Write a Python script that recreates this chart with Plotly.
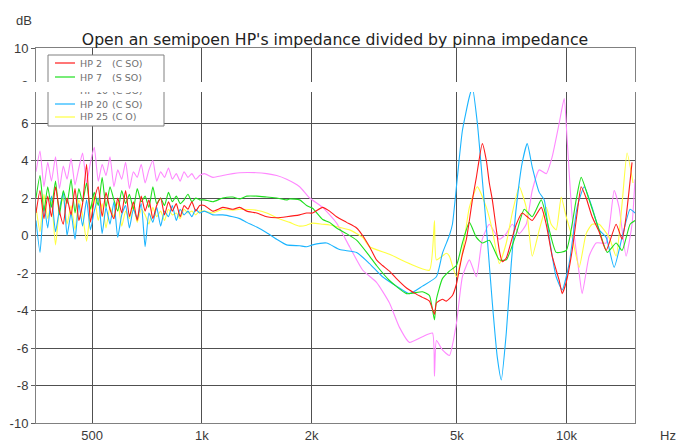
import math
import plotly.graph_objects as go

# ---------------- data ----------------
LOW_HZ = [351, 360, 369, 378, 387, 397, 407, 417, 427, 438, 449, 460, 471, 483, 495,
          507, 520, 533, 546, 560, 574, 588, 603, 618, 633, 649, 665, 682, 699, 716,
          734, 752, 771, 790, 810, 830, 851, 872, 894, 916, 939, 962, 986]

hp2_lo = [1.2, 2.4, 0.9, 2.1, 1.0, 2.6, 1.3, 0.6, 2.0, 1.1, 2.5, 0.8, 1.7, 3.8, 0.7,
          1.9, 2.6, 1.0, 2.3, 1.4, 0.9, 2.0, 1.2, 2.4, 1.0, 1.8, 0.8, 2.1, 1.3, 1.9,
          0.9, 1.6, 2.0, 1.1, 1.8, 1.3, 1.7, 1.0, 1.6, 1.4, 1.8, 1.3, 1.6]
hp7_lo = [2.0, 3.2, 1.3, 2.6, 1.5, 2.9, 1.1, 2.4, 1.7, 3.0, 1.2, 2.5, 1.8, 2.8, 1.4,
          2.3, 1.6, 3.1, 1.5, 2.6, 1.9, 1.3, 2.4, 1.7, 2.2, 1.4, 2.5, 1.8, 2.1, 1.5,
          2.6, 1.7, 2.0, 1.6, 2.3, 1.8, 2.1, 1.7, 1.9, 2.2, 1.8, 2.0, 1.9]
hp10_lo = [3.4, 4.5, 2.6, 3.9, 2.9, 4.2, 2.5, 3.7, 3.0, 4.1, 2.7, 3.6, 4.4, 2.8, 3.9,
           4.7, 2.9, 3.8, 3.2, 4.2, 2.6, 3.5, 3.0, 3.9, 2.5, 3.4, 3.1, 3.8, 2.8, 3.5,
           4.0, 2.9, 3.4, 3.1, 3.6, 3.0, 3.3, 2.9, 3.4, 3.1, 3.3, 3.0, 3.2]
hp20_lo = [0.8, -0.9, 1.6, 0.4, 2.1, 0.2, 1.4, 2.3, 0.0, 1.2, -0.2, 1.7, 0.5, 1.9, 0.3,
           1.3, 2.0, 0.1, 1.5, 0.6, 1.8, -0.1, 1.1, 1.6, 0.4, 1.4, 0.9, 1.7, -0.6, 1.2,
           0.7, 1.5, 0.5, 1.3, 1.0, 1.6, 0.8, 1.4, 1.1, 1.3, 1.0, 1.4, 1.2]
hp25_lo = [1.5, 0.2, 2.2, 0.9, 1.8, -0.5, 1.4, 2.0, 0.6, 1.6, 0.3, 1.9, 1.1, -0.3, 1.3,
           2.1, 0.8, 1.7, 0.4, 1.5, 1.0, 1.8, 0.5, 1.3, 0.9, 1.6, 0.7, 1.4, 1.1, 0.6,
           1.5, 1.0, 1.3, 0.8, 1.4, 1.1, 1.2, 0.9, 1.4, 1.2, 1.3, 1.1, 1.3]

hp2_hz_hi = [1016, 1072, 1141, 1216, 1270, 1328, 1414, 1506, 1604, 1708, 1854, 1938, 2012,
             2144, 2240, 2341, 2493, 2656, 2759, 2882, 3012, 3128, 3269, 3417, 3640, 3850,
             4025, 4207, 4342, 4396, 4566, 4682, 4864, 4987, 5082, 5180, 5312, 5413, 5517,
             5657, 5873, 6025, 6139, 6257, 6540, 6664, 6833, 7052, 7279, 7559, 7800, 8050,
             8521, 8792, 9130, 9545, 9726, 9974, 10358, 10688, 10963, 11314, 11748, 12279,
             12835, 13670, 14193, 14558, 15115]
hp2_db_hi = [1.6, 1.3, 1.5, 1.4, 1.5, 1.3, 1.2, 1.0, 0.95, 1.0, 1.1, 1.2, 1.2,
             1.5, 1.3, 1.0, 0.7, 0.4, 0.0, -0.6, -1.3, -1.6, -1.9, -2.3, -2.8, -3.1,
             -3.3, -3.5, -4.2, -3.6, -3.4, -3.5, -3.2, -2.6, -1.8, -1.0, -0.2, 0.8, 1.9,
             3.1, 4.9, 4.0, 2.8, 1.9, -0.8, -1.4, -1.2, -0.3, 0.6, 1.2, 1.0, 0.8,
             1.5, 0.6, -1.1, -2.4, -3.1, -2.5, -0.8, 1.2, 2.6, 2.0, 1.0, 0.2,
             -0.8, 0.6, -0.2, 1.0, 3.9]

hp7_hz_hi = [1016, 1072, 1141, 1216, 1270, 1328, 1414, 1506, 1604, 1708, 1741, 1854, 1938,
             2012, 2144, 2240, 2341, 2493, 2656, 2882, 3012, 3269, 3640, 4025, 4207, 4342,
             4396, 4566, 4771, 4987, 5180, 5413, 5657, 5873, 6139, 6540, 6833, 7279, 7654,
             8050, 8521, 8960, 9363, 9974, 10621, 10963, 11529, 12279, 12925, 13670, 14193,
             14929, 15400]
hp7_db_hi = [1.9, 1.8, 2.0, 2.05, 1.95, 2.1, 2.1, 2.05, 2.0, 1.9, 1.95, 1.9, 1.6,
             1.45, 0.85, 0.7, 0.4, 0.1, -0.25, -1.1, -1.6, -2.4, -3.1, -3.0, -3.2, -4.5,
             -3.4, -2.3, -1.9, -1.6, -0.4, 0.7, -0.1, -0.4, -0.25, -1.3, -1.3, 0.1, 1.4,
             1.0, 1.9, 0.3, -0.9, -0.8, 1.9, 3.1, 1.9, 0.3, -0.9, -0.4, -0.8,
             0.6, 0.8]

hp10_hz_hi = [1016, 1072, 1141, 1216, 1270, 1414, 1506, 1604, 1708, 1854, 1975, 2144, 2341,
              2541, 2759, 3012, 3269, 3482, 3708, 4025, 4287, 4342, 4396, 4566, 4771, 4987,
              5180, 5413, 5657, 5873, 6139, 6540, 6833, 7097, 7417, 7750, 8050, 8415, 8792,
              9130, 9545, 9849, 10036, 10358, 10824, 11033, 11529, 12048, 12835, 13500,
              13929, 14558, 15115, 15400]
hp10_db_hi = [3.3, 3.1, 3.2, 3.3, 3.35, 3.35, 3.3, 3.2, 3.0, 2.6, 2.0, 1.5, 0.66,
              -0.6, -1.84, -2.5, -3.6, -4.9, -5.7, -5.4, -5.2, -7.5, -5.6, -6.1, -6.4, -4.7,
              -2.2, -1.3, -2.2, -0.2, 0.6, -0.2, 0.1, 0.6, 0.1, 0.6, 2.4, 3.5, 3.3,
              4.2, 6.0, 7.3, 5.1, 1.0, -2.0, -3.1, -1.1, -0.4, -0.4, 2.4,
              1.5, -1.1, 0.6, 3.0]

hp20_hz_hi = [1016, 1072, 1141, 1216, 1270, 1328, 1414, 1506, 1604, 1708, 1854, 1938, 2012,
              2198, 2387, 2656, 2882, 3128, 3417, 3708, 4025, 4396, 4566, 4771, 4864, 5018,
              5180, 5413, 5517, 5692, 5873, 6063, 6257, 6457, 6622, 6833, 7052, 7279, 7559,
              7800, 8050, 8415, 8683, 8960, 9363, 9726, 10163, 10688, 11173, 11748, 12279,
              12835, 13500, 14193, 14929, 15400]
hp20_db_hi = [1.3, 1.1, 1.1, 1.0, 0.9, 0.7, 0.45, 0.15, -0.2, -0.5, -0.55, -0.6, -0.5,
              -0.4, -0.75, -0.9, -1.5, -2.2, -2.7, -3.1, -2.7, -2.2, -0.95, 0.0, 0.6, 3.1,
              5.6, 7.4, 7.9, 6.0, 3.0, -0.2, -3.6, -6.5, -7.7, -5.2, -1.5, 1.5, 3.9,
              4.9, 3.65, 2.3, 1.9, -0.1, -2.2, -2.9, -1.5, 1.5, 2.6, 1.5, 0.3,
              -0.1, -1.7, -0.1, 1.4, 1.2]

hp25_hz_hi = [1016, 1072, 1141, 1216, 1270, 1414, 1506, 1604, 1741, 1854, 1938, 2012, 2144,
              2240, 2541, 2759, 2882, 3269, 3708, 4207, 4342, 4396, 4682, 4771, 4987, 5180,
              5413, 5692, 6025, 6257, 6540, 6833, 7097, 7417, 7750, 8050, 8415, 8792, 9073,
              9363, 9665, 9974, 10358, 10824, 11314, 11748, 12279, 13079, 13670, 14193,
              14650, 15209]
hp25_db_hi = [1.3, 1.2, 1.4, 1.35, 1.4, 1.35, 1.2, 0.95, 0.7, 0.5, 0.55, 0.66, 0.6,
              0.56, 0.3, -0.1, -0.6, -1.0, -1.5, -1.85, 0.8, -1.3, -0.95, -1.1, -2.2, -0.9,
              1.5, 2.6, 1.5, 0.3, -1.5, -0.4, 1.2, 2.6, 1.5, -1.1, 0.3, 1.5, 0.6,
              0.3, 2.05, 1.0, -0.1, -1.7, 0.1, 0.6, 0.6, -0.1, -1.1, 1.7,
              4.4, 2.8]

SERIES_NAMES = ["HP 2", "HP 7", "HP 10", "HP 20", "HP 25"]
SERIES_CODES = ["(C SO)", "(S SO)", "(C SO)", "(C SO)", "(C O)"]
SERIES_COLORS = ["#ff1a1a", "#1ee01e", "#ff88ff", "#1ab4ff", "#ffff40"]

Y_TICKS = [-10, -8, -6, -4, -2, 0, 2, 4, 6, 8, 10]
X_TICKS = [500, 1000, 2000, 5000, 10000]
X_TICK_TEXT = ["500", "1k", "2k", "5k", "10k"]
X_RANGE_HZ = [351, 15400]

series = {
    "HP 2": (LOW_HZ + hp2_hz_hi, hp2_lo + hp2_db_hi),
    "HP 7": (LOW_HZ + hp7_hz_hi, hp7_lo + hp7_db_hi),
    "HP 10": (LOW_HZ + hp10_hz_hi, hp10_lo + hp10_db_hi),
    "HP 20": (LOW_HZ + hp20_hz_hi, hp20_lo + hp20_db_hi),
    "HP 25": (LOW_HZ + hp25_hz_hi, hp25_lo + hp25_db_hi),
}

# ---------------- figure ----------------
fig = go.Figure()
draw_order = [2, 4, 3, 1, 0]
for i in draw_order:
    name = SERIES_NAMES[i]
    xs, ys = series[name]
    fig.add_trace(go.Scatter(x=xs, y=ys, mode="lines", name=name + " " + SERIES_CODES[i],
                             line=dict(color=SERIES_COLORS[i], width=1.1,
                                       shape="spline", smoothing=0.5),
                             showlegend=False, hoverinfo="skip"))

# the page body has an 8px margin; work in window pixels and shift
OFF = 8
W, H = 688 - OFF, 444 - OFF
ML, MR, MT, MB = 36 - OFF, 53, 48 - OFF, 21
PW, PH = W - ML - MR, H - MT - MB

def px_x(p):
    return (p - OFF - ML) / PW

def px_y(p):
    return 1 - (p - OFF - MT) / PH

font_axis = dict(family="Liberation Sans, Arial, sans-serif", size=13, color="#3a3a3a")
font_leg = dict(family="DejaVu Sans, Verdana, sans-serif", size=9.5, color="#707070")

fig.update_layout(
    width=W, height=H,
    margin=dict(l=ML, r=MR, t=MT, b=MB, autoexpand=False),
    paper_bgcolor="white", plot_bgcolor="white",
    title=dict(text="Open an semipoen HP's impedance divided by pinna impedance",
               x=(335 - OFF) / W, xanchor="center", y=1 - (40 - OFF) / H, yanchor="middle",
               font=dict(family="DejaVu Sans, Verdana, sans-serif", size=15.7, color="#222222")),
    xaxis=dict(type="log", range=[math.log10(X_RANGE_HZ[0]), math.log10(X_RANGE_HZ[1])],
               tickvals=X_TICKS, ticktext=X_TICK_TEXT, showgrid=True, gridcolor="#505050",
               gridwidth=1, showline=True, linecolor="#808080", linewidth=1, mirror=True,
               ticks="", tickfont=font_axis, zeroline=False, automargin=False),
    yaxis=dict(range=[-10, 10], tickvals=Y_TICKS, ticktext=[str(v) for v in Y_TICKS],
               showgrid=True, gridcolor="#505050", gridwidth=1, showline=True,
               linecolor="#808080", linewidth=1, mirror=True, ticks="outside", ticklen=4,
               tickcolor="#606060", tickfont=font_axis, zeroline=False, automargin=False),
)

# unit labels
fig.add_annotation(text="dB", xref="paper", yref="paper", x=px_x(24), y=px_y(20),
                   showarrow=False, xanchor="center", yanchor="middle", font=font_axis)
fig.add_annotation(text="Hz", xref="paper", yref="paper", x=px_x(678), y=px_y(435),
                   showarrow=False, xanchor="right", yanchor="middle", font=font_axis)

# custom legend box
fig.add_shape(type="rect", xref="paper", yref="paper",
              x0=px_x(48), x1=px_x(164), y0=px_y(126), y1=px_y(55),
              line=dict(color="#808080", width=1), fillcolor="white", layer="above")
row_y = [63, 77, 90, 104, 117]
for i in range(5):
    fig.add_shape(type="line", xref="paper", yref="paper",
                  x0=px_x(55), x1=px_x(75), y0=px_y(row_y[i]), y1=px_y(row_y[i]),
                  line=dict(color=SERIES_COLORS[i], width=1.2), layer="above")
    fig.add_annotation(text=SERIES_NAMES[i], xref="paper", yref="paper",
                       x=px_x(78), y=px_y(row_y[i]), xanchor="left", yanchor="middle",
                       showarrow=False, font=font_leg)
    fig.add_annotation(text=SERIES_CODES[i], xref="paper", yref="paper",
                       x=px_x(110), y=px_y(row_y[i]), xanchor="left", yanchor="middle",
                       showarrow=False, font=font_leg)

# white band artefact of the reference picture (drawn last, above everything)
fig.add_annotation(text=" ", xref="paper", yref="paper", x=px_x(344), y=px_y(87),
                   xanchor="center", yanchor="middle", showarrow=False,
                   width=700, height=10, bgcolor="white", borderpad=0, borderwidth=0,
                   font=dict(size=8))

fig.write_html("out.html")
